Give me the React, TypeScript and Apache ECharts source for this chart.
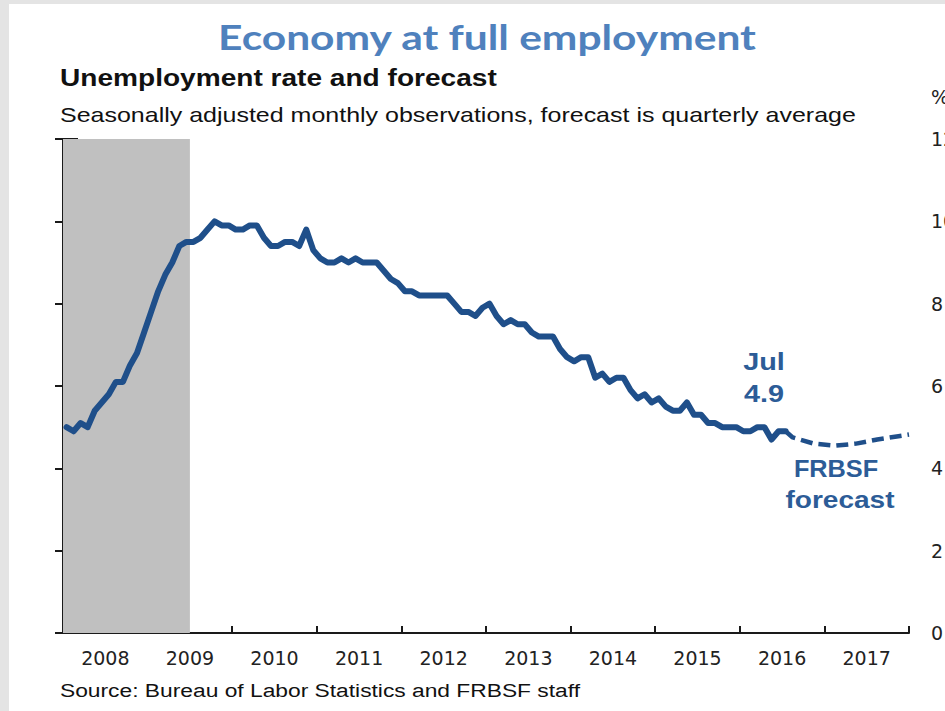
import React, { useEffect, useRef } from 'react';
import * as echarts from 'echarts';

// ---- Data (unemployment rate, %, monthly, seasonally adjusted) ----
const years = ['2008', '2009', '2010', '2011', '2012', '2013', '2014', '2015', '2016', '2017'];
const rate2008 = [5.0, 4.9, 5.1, 5.0, 5.4, 5.6, 5.8, 6.1, 6.1, 6.5, 6.8, 7.3];
const rate2009 = [7.8, 8.3, 8.7, 9.0, 9.4, 9.5, 9.5, 9.6, 9.8, 10.0, 9.9, 9.9];
const rate2010 = [9.8, 9.8, 9.9, 9.9, 9.6, 9.4, 9.4, 9.5, 9.5, 9.4, 9.8, 9.3];
const rate2011 = [9.1, 9.0, 9.0, 9.1, 9.0, 9.1, 9.0, 9.0, 9.0, 8.8, 8.6, 8.5];
const rate2012 = [8.3, 8.3, 8.2, 8.2, 8.2, 8.2, 8.2, 8.0, 7.8, 7.8, 7.7, 7.9];
const rate2013 = [8.0, 7.7, 7.5, 7.6, 7.5, 7.5, 7.3, 7.2, 7.2, 7.2, 6.9, 6.7];
const rate2014 = [6.6, 6.7, 6.7, 6.2, 6.3, 6.1, 6.2, 6.2, 5.9, 5.7, 5.8, 5.6];
const rate2015 = [5.7, 5.5, 5.4, 5.4, 5.6, 5.3, 5.3, 5.1, 5.1, 5.0, 5.0, 5.0];
const rate2016 = [4.9, 4.9, 5.0, 5.0, 4.7, 4.9, 4.9];

// FRBSF forecast, quarterly averages
const forecastQuarters = ['2016Q3', '2016Q4', '2017Q1', '2017Q2', '2017Q3', '2017Q4'];
const forecastValues = [4.75, 4.6, 4.55, 4.6, 4.7, 4.78];
const forecastEdgeValue = 4.82; // where the dashed line meets the right axis (end of 2017)

// Recession shading (months from Jan 2008)
const recessionStart = 0;
const recessionEnd = 18;

const yTicks = [0, 2, 4, 6, 8, 10, 12];

const monthlyRates = [rate2008, rate2009, rate2010, rate2011, rate2012, rate2013, rate2014, rate2015, rate2016];

export default function App() {
  const ref = useRef<HTMLDivElement>(null);

  useEffect(() => {
    if (!ref.current) return;
    const chart = echarts.init(ref.current, null, { renderer: 'svg' });

    const actual: number[][] = [];
    monthlyRates.forEach((arr, yi) => {
      arr.forEach((v, mi) => actual.push([yi * 12 + mi + 0.5, v]));
    });
    const last = actual[actual.length - 1];
    const forecast: number[][] = [last.slice()];
    forecastQuarters.forEach((q, i) => {
      const y = parseInt(q.slice(0, 4), 10);
      const qn = parseInt(q.slice(5), 10);
      forecast.push([(y - 2008) * 12 + qn * 3 - 1.5, forecastValues[i]]);
    });
    forecast.push([years.length * 12, forecastEdgeValue]);

    const lineColor = '#1f4f8a';
    const noteColor = '#2c5c97';
    const axisColor = '#1a1a1a';
    const font = '"Liberation Sans", Arial, sans-serif';
    const axisFont = '"DejaVu Sans", sans-serif';

    const txt = (x: number, y: number, text: string, f: string, fill: string, align: string, sx: number) => ({
      type: 'text', x, y, scaleX: sx, silent: true,
      style: { text, fill, font: f, textAlign: align, textVerticalAlign: 'middle' },
    });

    chart.setOption({
      animation: false,
      backgroundColor: '#e4e4e4',
      graphic: [
        { type: 'rect', z: -100, silent: true, shape: { x: 9, y: 4, width: 1000, height: 760 }, style: { fill: '#ffffff' } },
        txt(487, 37, 'Economy at full employment', 'bold 34px Lato, "Open Sans", sans-serif', '#4f81bd', 'center', 1.25),
        txt(60, 78, 'Unemployment rate and forecast', `bold 24px ${font}`, '#111', 'left', 1.17),
        txt(60, 115, 'Seasonally adjusted monthly observations, forecast is quarterly average', `21px ${font}`, '#111', 'left', 1.19),
        txt(60, 690, 'Source: Bureau of Labor Statistics and FRBSF staff', `19px ${font}`, '#111', 'left', 1.2),
        txt(931, 97, '%', `19px ${axisFont}`, '#222', 'left', 1),
        txt(764, 362, 'Jul', `bold 24px ${font}`, noteColor, 'center', 1.2),
        txt(764, 394, '4.9', `bold 24px ${font}`, noteColor, 'center', 1.2),
        txt(836, 469, 'FRBSF', `bold 23px ${font}`, noteColor, 'center', 1.1),
        txt(840, 500, 'forecast', `bold 23px ${font}`, noteColor, 'center', 1.22),
      ],
      grid: { left: 63, top: 139, width: 846, height: 494, containLabel: false },
      xAxis: [
        {
          type: 'value', min: 0, max: years.length * 12, interval: 12,
          position: 'bottom',
          axisLine: { show: true, onZero: false, lineStyle: { color: axisColor, width: 2 } },
          axisTick: { show: true, inside: true, length: 7, lineStyle: { color: axisColor, width: 2 } },
          axisLabel: { show: false },
          splitLine: { show: false },
        },
        {
          type: 'category', data: years, position: 'bottom', boundaryGap: true,
          axisLine: { show: false }, axisTick: { show: false }, splitLine: { show: false },
          axisLabel: { show: true, margin: 15, fontSize: 19, color: '#222', fontFamily: axisFont },
        },
      ],
      yAxis: [
        {
          type: 'value', position: 'right', min: yTicks[0], max: yTicks[yTicks.length - 1], interval: 2,
          axisLine: { show: true, lineStyle: { color: axisColor, width: 2 } },
          axisTick: { show: true, inside: true, length: 8, lineStyle: { color: axisColor, width: 2 } },
          axisLabel: { show: true, margin: 22, fontSize: 19, color: '#222', fontFamily: axisFont },
          splitLine: { show: false },
        },
        {
          type: 'value', position: 'left', min: yTicks[0], max: yTicks[yTicks.length - 1], interval: 2,
          axisLine: { show: true, lineStyle: { color: axisColor, width: 2 } },
          axisTick: { show: true, inside: true, length: 15, lineStyle: { color: axisColor, width: 2 } },
          axisLabel: { show: false },
          splitLine: { show: false },
        },
      ],
      series: [
        {
          type: 'line', name: 'Unemployment rate', xAxisIndex: 0, yAxisIndex: 0,
          data: actual, showSymbol: false, symbol: 'none',
          lineStyle: { color: lineColor, width: 6, join: 'round', cap: 'round' },
          z: 3,
          markArea: {
            silent: true,
            itemStyle: { color: '#c0c0c0' },
            data: [[{ xAxis: recessionStart }, { xAxis: recessionEnd }]],
            z: 1,
          },
        },
        {
          type: 'line', name: 'FRBSF forecast', xAxisIndex: 0, yAxisIndex: 0,
          data: forecast, showSymbol: false, symbol: 'none',
          lineStyle: { color: lineColor, width: 4.5, type: [12, 6] },
          z: 3,
        },
      ],
    });

    return () => chart.dispose();
  }, []);

  return (
    <div style={{ position: 'fixed', left: 0, top: 0, width: 945, height: 711, overflow: 'hidden', background: '#e4e4e4' }}>
      <div ref={ref} style={{ width: 1000, height: 711 }} />
    </div>
  );
}
